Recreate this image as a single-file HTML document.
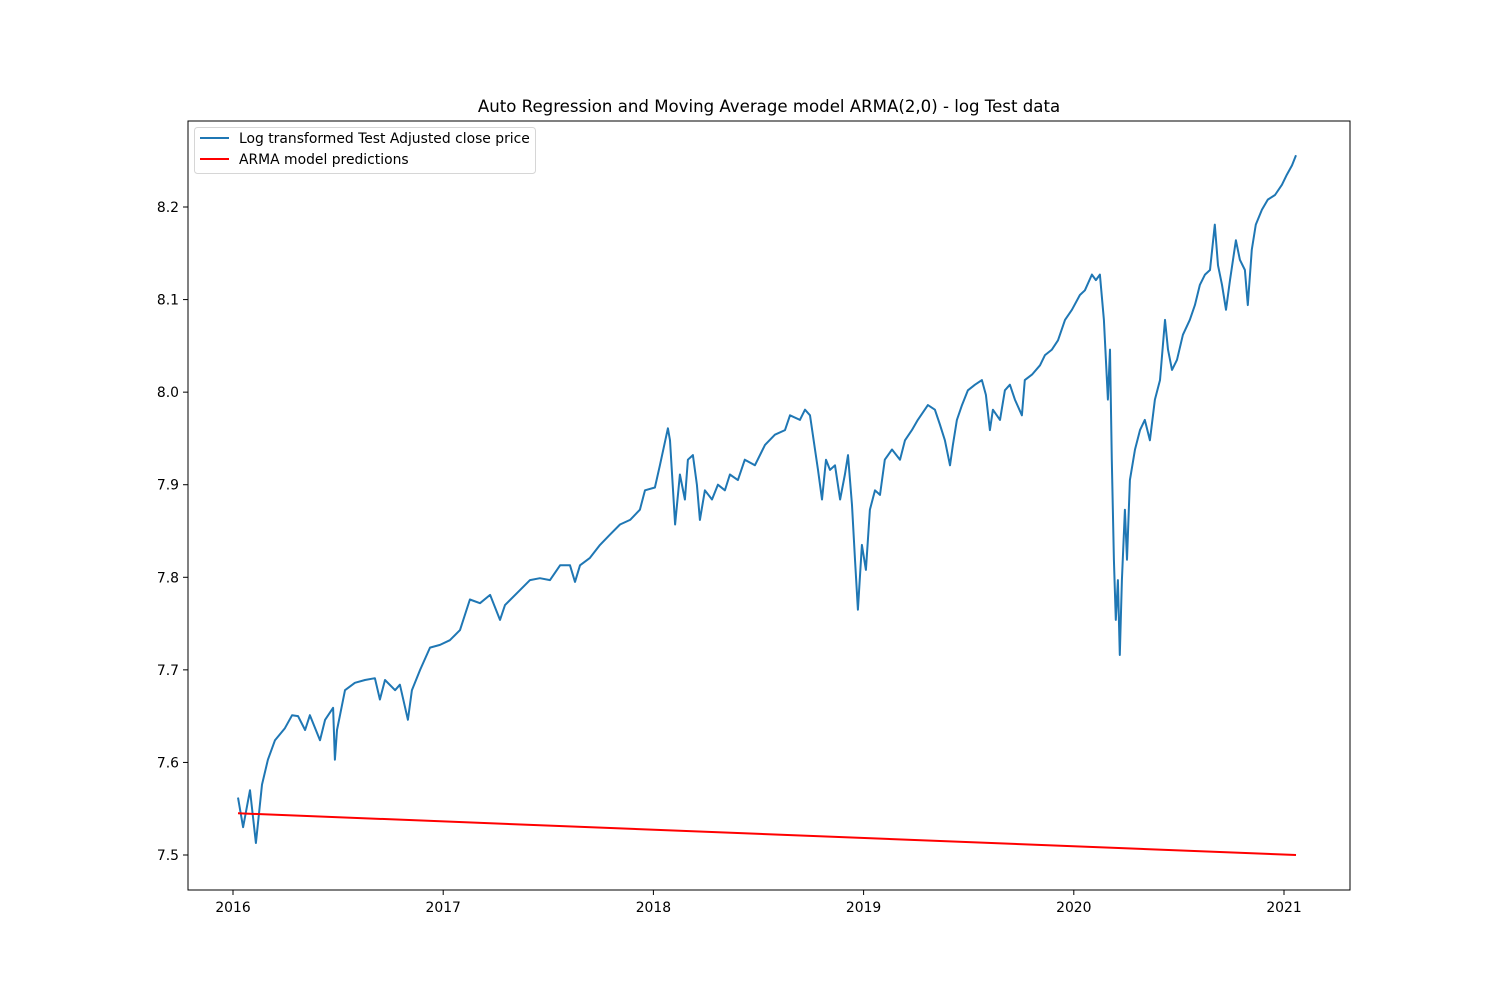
<!DOCTYPE html>
<html><head><meta charset="utf-8"><style>
html,body{margin:0;padding:0;background:#fff;}
svg{display:block;font-family:"DejaVu Sans","Liberation Sans",sans-serif;}
</style></head><body>
<svg id="chart" width="1500" height="1000" viewBox="0 0 1500 1000" xmlns="http://www.w3.org/2000/svg">
<rect width="1500" height="1000" fill="#fff"/>
<text x="769" y="112" text-anchor="middle" font-size="16.6">Auto Regression and Moving Average model ARMA(2,0) - log Test data</text>
<g id="axes"></g>
<g id="series"></g>
<rect x="188" y="121" width="1162" height="769" fill="none" stroke="#000" stroke-width="1"/>
<g>
<rect x="194.5" y="127.5" width="341" height="46" rx="3" fill="#fff" stroke="#ccc" stroke-opacity="0.8"/>
<line x1="200" y1="138" x2="229" y2="138" stroke="#1f77b4" stroke-width="2"/>
<text x="239" y="143" font-size="13.9">Log transformed Test Adjusted close price</text>
<line x1="200" y1="159" x2="229" y2="159" stroke="#ff0000" stroke-width="2"/>
<text x="239" y="164" font-size="13.9">ARMA model predictions</text>
</g>
</svg>
<script>
const dates=[2016.024,2016.048,2016.081,2016.109,2016.138,2016.166,2016.200,2016.247,2016.281,2016.309,2016.343,2016.366,2016.414,2016.438,2016.476,2016.485,2016.495,2016.509,2016.533,2016.580,2016.628,2016.675,2016.699,2016.723,2016.771,2016.794,2016.832,2016.851,2016.890,2016.937,2016.985,2017.032,2017.080,2017.127,2017.175,2017.223,2017.270,2017.294,2017.365,2017.413,2017.460,2017.508,2017.556,2017.603,2017.627,2017.651,2017.698,2017.746,2017.793,2017.841,2017.889,2017.936,2017.960,2018.007,2018.031,2018.069,2018.079,2018.103,2018.126,2018.150,2018.164,2018.188,2018.207,2018.221,2018.245,2018.279,2018.307,2018.340,2018.364,2018.402,2018.435,2018.483,2018.531,2018.578,2018.626,2018.650,2018.697,2018.721,2018.745,2018.769,2018.783,2018.802,2018.821,2018.840,2018.864,2018.888,2018.911,2018.926,2018.945,2018.959,2018.973,2018.992,2019.011,2019.030,2019.054,2019.078,2019.101,2019.135,2019.173,2019.197,2019.230,2019.258,2019.306,2019.339,2019.363,2019.387,2019.411,2019.425,2019.444,2019.468,2019.496,2019.530,2019.563,2019.582,2019.601,2019.615,2019.649,2019.672,2019.696,2019.720,2019.753,2019.767,2019.801,2019.839,2019.863,2019.896,2019.925,2019.958,2019.991,2020.029,2020.053,2020.086,2020.105,2020.124,2020.143,2020.162,2020.172,2020.181,2020.191,2020.200,2020.210,2020.219,2020.229,2020.243,2020.253,2020.267,2020.291,2020.315,2020.338,2020.362,2020.386,2020.410,2020.434,2020.448,2020.467,2020.491,2020.519,2020.552,2020.576,2020.600,2020.624,2020.648,2020.671,2020.686,2020.705,2020.724,2020.743,2020.771,2020.790,2020.814,2020.828,2020.847,2020.866,2020.895,2020.923,2020.957,2020.990,2021.014,2021.038,2021.057];
const logPrice=[7.562,7.530,7.570,7.513,7.576,7.603,7.624,7.637,7.651,7.650,7.635,7.651,7.624,7.646,7.659,7.603,7.635,7.651,7.678,7.686,7.689,7.691,7.668,7.689,7.678,7.684,7.646,7.678,7.700,7.724,7.727,7.732,7.743,7.776,7.772,7.781,7.754,7.770,7.786,7.797,7.799,7.797,7.813,7.813,7.795,7.813,7.821,7.835,7.846,7.857,7.862,7.873,7.894,7.897,7.921,7.961,7.948,7.857,7.911,7.884,7.927,7.932,7.900,7.862,7.894,7.884,7.900,7.894,7.911,7.905,7.927,7.921,7.943,7.954,7.959,7.975,7.970,7.981,7.975,7.938,7.916,7.884,7.927,7.916,7.921,7.884,7.911,7.932,7.878,7.819,7.765,7.835,7.808,7.873,7.894,7.889,7.927,7.938,7.927,7.948,7.959,7.970,7.986,7.981,7.965,7.948,7.921,7.943,7.970,7.986,8.002,8.008,8.013,7.997,7.959,7.981,7.970,8.002,8.008,7.992,7.975,8.013,8.019,8.029,8.040,8.046,8.056,8.078,8.089,8.105,8.110,8.127,8.121,8.127,8.078,7.992,8.046,7.927,7.819,7.754,7.797,7.716,7.797,7.873,7.819,7.905,7.938,7.959,7.970,7.948,7.992,8.013,8.078,8.046,8.024,8.035,8.062,8.078,8.094,8.116,8.127,8.132,8.181,8.137,8.116,8.089,8.121,8.164,8.143,8.132,8.094,8.154,8.181,8.197,8.208,8.213,8.224,8.235,8.245,8.256];
const predDates=[2016.024,2021.057];
const predValues=[7.545,7.500];
const xTicks=[2016,2017,2018,2019,2020,2021];
const yTicks=[7.5,7.6,7.7,7.8,7.9,8.0,8.1,8.2];

const NS="http://www.w3.org/2000/svg";
function xs(t){return 233+(t-2016)*210.2;}
function ys(v){return 855-(v-7.5)*925.7;}
const axes=document.getElementById('axes');
const series=document.getElementById('series');
function mk(tag,attrs,parent){const e=document.createElementNS(NS,tag);for(const k in attrs)e.setAttribute(k,attrs[k]);parent.appendChild(e);return e;}
xTicks.forEach(t=>{
  const x=xs(t);
  const l=mk('line',{x1:x,y1:890,x2:x,y2:895,stroke:'#000'},axes);
  
  
  const tx=mk('text',{x:x,y:912,'text-anchor':'middle','font-size':'13.9'},axes);
  tx.textContent=String(t);
  
  
});
yTicks.forEach(v=>{
  const y=ys(v);
  const l=mk('line',{x1:183,y1:y,x2:188,y2:y,stroke:'#000'},axes);
  
  
  const tx=mk('text',{x:179,y:y+5,'text-anchor':'end','font-size':'13.9'},axes);
  tx.textContent=v.toFixed(1);
  
  
});
const p1=mk('polyline',{points:dates.map((t,i)=>xs(t).toFixed(1)+','+ys(logPrice[i]).toFixed(1)).join(' '),fill:'none',stroke:'#1f77b4','stroke-width':2,'stroke-linejoin':'round'},series);


const p2=mk('polyline',{points:predDates.map((t,i)=>xs(t).toFixed(1)+','+ys(predValues[i]).toFixed(1)).join(' '),fill:'none',stroke:'#ff0000','stroke-width':2},series);


</script>
</body></html>
